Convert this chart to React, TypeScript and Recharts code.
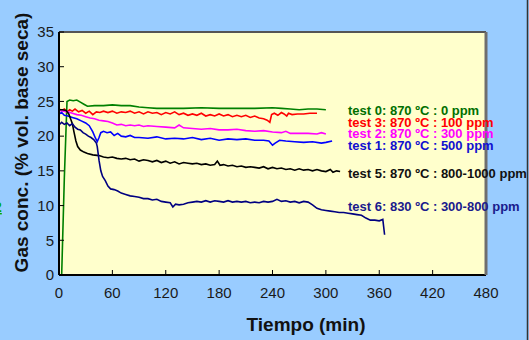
import { CartesianGrid, Line, LineChart, XAxis, YAxis } from "recharts"

type Pt = { t: number; v: number }

const FONT = "Arial, 'Liberation Sans', sans-serif"

const X_TICKS = [0, 60, 120, 180, 240, 300, 360, 420, 480]
const Y_TICKS = [0, 5, 10, 15, 20, 25, 30, 35]

// [tiempo (min), concentración (%)]
const TEST0: [number, number][] = [
  [0, 0], [3, 0], [6, 14], [9, 25.0], [12, 25.2], [16, 25.1], [20, 25.2], [24, 24.9],
  [28, 24.6], [32, 24.3], [40, 24.4], [50, 24.4], [60, 24.5], [70, 24.4], [80, 24.4],
  [90, 24.2], [100, 24.1], [110, 24.0], [120, 24.0], [140, 24.0], [160, 24.1], [180, 24.0],
  [200, 24.0], [220, 24.0], [240, 24.1], [250, 24.0], [260, 23.9], [270, 23.8], [280, 23.9],
  [290, 23.9], [300, 23.8],
]

const TEST3: [number, number][] = [
  [0, 23.9], [3, 23.7], [6, 23.9], [9, 23.5], [12, 23.8], [15, 23.6], [18, 23.9], [22, 23.5],
  [26, 23.7], [30, 23.3], [34, 23.6], [38, 23.1], [42, 23.5], [46, 23.4], [50, 23.6], [55, 23.4],
  [60, 23.6], [65, 23.3], [70, 23.5], [75, 23.4], [80, 23.6], [85, 23.3], [90, 23.5], [95, 23.2],
  [100, 23.5], [105, 23.3], [110, 23.4], [115, 23.1], [120, 23.4], [125, 23.2], [130, 23.5],
  [135, 23.1], [140, 23.3], [145, 23.0], [150, 23.2], [155, 23.0], [160, 23.3], [165, 22.9],
  [170, 23.1], [175, 22.9], [180, 23.2], [185, 22.9], [190, 23.1], [195, 22.8], [200, 23.0],
  [205, 22.8], [210, 23.0], [215, 22.7], [220, 22.9], [225, 22.6], [230, 22.5], [234, 22.3],
  [237, 22.0], [239, 23.1], [242, 23.3], [246, 23.0], [250, 23.4], [253, 23.2], [256, 22.9],
  [258, 23.3], [262, 23.1], [268, 23.2], [275, 23.2], [282, 23.3], [290, 23.3],
]

const TEST2: [number, number][] = [
  [0, 23.7], [5, 23.6], [10, 23.5], [15, 23.3], [20, 23.1], [25, 23.0], [30, 22.8], [35, 22.6],
  [40, 22.5], [45, 22.3], [50, 22.2], [55, 22.1], [60, 21.9], [65, 21.6], [70, 21.7], [75, 21.5],
  [80, 21.6], [85, 21.5], [90, 21.6], [95, 21.4], [100, 21.5], [110, 21.4], [120, 21.3],
  [130, 21.2], [135, 21.6], [140, 21.2], [150, 21.1], [160, 21.0], [170, 21.1], [180, 20.9],
  [190, 20.9], [200, 21.0], [210, 20.8], [220, 20.7], [230, 20.8], [240, 20.6], [250, 20.5],
  [255, 20.7], [260, 20.4], [270, 20.4], [280, 20.4], [290, 20.3], [295, 20.5], [300, 20.3],
]

const TEST1: [number, number][] = [
  [0, 23.2], [3, 23.4], [6, 23.0], [10, 22.9], [15, 22.7], [20, 22.5], [25, 22.2], [30, 21.9],
  [34, 21.5], [38, 20.6], [41, 19.7], [43, 19.2], [45, 19.8], [47, 20.5], [50, 20.7], [54, 20.5],
  [58, 20.6], [62, 20.1], [66, 20.4], [70, 20.0], [75, 19.9], [80, 20.1], [85, 19.8], [90, 19.8],
  [100, 19.7], [110, 19.9], [120, 19.6], [130, 19.7], [140, 19.6], [150, 19.8], [160, 19.5],
  [170, 19.7], [180, 19.4], [190, 19.6], [200, 19.5], [210, 19.6], [220, 19.4], [230, 19.4],
  [236, 19.3], [240, 18.7], [243, 19.0], [248, 19.4], [255, 19.3], [265, 19.2], [275, 19.1],
  [285, 19.2], [295, 19.0], [300, 19.1], [307, 19.3],
]

const TEST5: [number, number][] = [
  [0, 23.8], [4, 23.8], [8, 23.7], [11, 23.2], [13, 22.5], [15, 21.8], [17, 20.5], [19, 19.3],
  [21, 18.5], [24, 18.0], [28, 17.7], [32, 17.5], [38, 17.3], [45, 17.2], [50, 17.0], [55, 16.9],
  [60, 17.0], [65, 16.8], [70, 16.7], [75, 16.8], [80, 16.6], [85, 16.7], [90, 16.4], [95, 16.6],
  [100, 16.5], [105, 16.3], [110, 16.5], [115, 16.2], [120, 16.4], [125, 16.1], [130, 16.3],
  [135, 16.0], [140, 16.2], [145, 16.1], [150, 16.0], [155, 16.1], [160, 15.9], [165, 16.0],
  [170, 15.8], [175, 15.9], [178, 16.4], [181, 15.8], [185, 15.9], [190, 15.7], [195, 15.8],
  [200, 15.6], [205, 15.7], [210, 15.5], [215, 15.6], [220, 15.5], [225, 15.4], [230, 15.6],
  [235, 15.3], [240, 15.5], [245, 15.3], [250, 15.4], [255, 15.2], [260, 15.3], [265, 15.1],
  [270, 15.3], [275, 15.1], [280, 15.2], [285, 15.0], [290, 15.2], [295, 15.0], [300, 14.9],
  [305, 15.2], [308, 14.8], [312, 15.0], [316, 14.9],
]

const TEST6: [number, number][] = [
  [0, 21.6], [3, 22.0], [6, 21.7], [9, 21.9], [12, 21.5], [15, 21.8], [18, 21.3], [21, 21.0],
  [24, 20.9], [27, 20.5], [30, 20.3], [33, 20.0], [36, 19.8], [39, 19.5], [42, 19.0], [43, 18.5],
  [45, 16.5], [47, 15.0], [49, 14.2], [52, 13.6], [55, 12.8], [58, 12.4], [62, 12.3], [66, 12.1],
  [70, 11.8], [75, 11.6], [80, 11.4], [85, 11.3], [90, 11.2], [95, 11.0], [100, 11.0], [105, 10.8],
  [110, 10.9], [115, 10.6], [120, 10.5], [125, 10.4], [128, 9.8], [131, 10.2], [135, 10.1],
  [140, 10.2], [145, 10.4], [150, 10.5], [155, 10.6], [160, 10.5], [165, 10.7], [170, 10.5],
  [175, 10.7], [180, 10.6], [185, 10.5], [190, 10.7], [195, 10.5], [200, 10.6], [205, 10.5],
  [210, 10.6], [215, 10.4], [220, 10.5], [225, 10.4], [230, 10.6], [235, 10.5], [240, 10.6],
  [245, 10.9], [250, 10.6], [255, 10.7], [260, 10.5], [265, 10.6], [270, 10.4], [275, 10.6],
  [280, 10.5], [285, 10.1], [290, 9.6], [295, 9.4], [300, 9.3], [305, 9.2], [310, 9.1],
  [315, 9.0], [320, 9.0], [325, 8.9], [330, 8.8], [335, 8.7], [340, 8.6], [345, 8.2], [350, 7.9],
  [355, 7.9], [360, 7.8], [364, 8.0], [366, 5.8],
]

const SERIES = [
  { key: "test0", data: TEST0, color: "#008000" },
  { key: "test3", data: TEST3, color: "#ff0000" },
  { key: "test2", data: TEST2, color: "#ff00ff" },
  { key: "test1", data: TEST1, color: "#0000ff" },
  { key: "test5", data: TEST5, color: "#000000" },
  { key: "test6", data: TEST6, color: "#000080" },
]

// Etiquetas de cada ensayo (texto, color, línea base en px)
const LABELS = [
  { text: "test 0: 870 ºC : 0 ppm", color: "#006f00", y: 115 },
  { text: "test 3: 870 ºC : 100 ppm", color: "#ff0000", y: 126.5 },
  { text: "test 2: 870 ºC : 300 ppm", color: "#ff00ff", y: 138 },
  { text: "test 1: 870 ºC : 500 ppm", color: "#1010d0", y: 149.5 },
  { text: "test 5: 870 ºC : 800-1000 ppm", color: "#111111", y: 177.5 },
  { text: "test 6: 830 ºC : 300-800 ppm", color: "#1a1a8c", y: 210.5 },
]

const toPts = (rows: [number, number][]): Pt[] => rows.map(([t, v]) => ({ t, v }))

const TICK = { fill: "#1a1a1a", fontSize: 15, fontFamily: FONT }

export default function App() {
  return (
    <div style={{ position: "absolute", left: 0, top: 0, width: 529, height: 340, background: "#99ccff" }}>
      <LineChart width={529} height={340} margin={{ top: 31, right: 42, bottom: 35, left: 9 }}>
        <CartesianGrid fill="#ffffcc" horizontal={false} vertical={false} />
        <XAxis
          type="number"
          dataKey="t"
          domain={[0, 480]}
          ticks={X_TICKS}
          allowDuplicatedCategory={false}
          height={30}
          tickSize={-5}
          tickMargin={17}
          tick={TICK}
          stroke="#000"
          axisLine={{ stroke: "#000", strokeWidth: 2 }}
          tickLine={{ stroke: "#000" }}
        />
        <XAxis
          xAxisId="top"
          orientation="top"
          type="number"
          domain={[0, 480]}
          height={1}
          tick={false}
          tickLine={false}
          axisLine={{ stroke: "#555", strokeWidth: 2 }}
        />
        <YAxis
          type="number"
          domain={[0, 35]}
          ticks={Y_TICKS}
          width={50}
          tickSize={-5}
          tickMargin={10}
          tick={TICK}
          axisLine={{ stroke: "#000", strokeWidth: 2 }}
          tickLine={{ stroke: "#000" }}
        />
        <YAxis
          yAxisId="right"
          orientation="right"
          type="number"
          domain={[0, 35]}
          width={1}
          tick={false}
          tickLine={false}
          axisLine={{ stroke: "#6e6e6e", strokeWidth: 3 }}
        />
        {SERIES.map((s) => (
          <Line
            key={s.key}
            data={toPts(s.data)}
            dataKey="v"
            stroke={s.color}
            strokeWidth={1.6}
            dot={false}
            activeDot={false}
            isAnimationActive={false}
          />
        ))}
      </LineChart>
      <svg
        width={529}
        height={340}
        style={{ position: "absolute", left: 0, top: 0, pointerEvents: "none" }}
      >
        <text
          x={28}
          y={142.5}
          transform="rotate(-90 28 142.5)"
          textAnchor="middle"
          fontFamily={FONT}
          fontWeight="bold"
          fontSize={19}
          fill="#111"
        >
          Gas conc. (% vol. base seca)
        </text>
        <text x={306} y={331} textAnchor="middle" fontFamily={FONT} fontWeight="bold" fontSize={19} fill="#111">
          Tiempo (min)
        </text>
        <text x={-6} y={212} fontFamily={FONT} fontWeight="bold" fontSize={14} fill="#00aa00" textDecoration="underline">
          2
        </text>
        {LABELS.map((l) => (
          <text key={l.text} x={348} y={l.y} fontFamily={FONT} fontWeight="bold" fontSize={13} fill={l.color}>
            {l.text}
          </text>
        ))}
        <line x1={527.5} y1={0} x2={527.5} y2={340} stroke="#333" strokeWidth={1.5} />
      </svg>
    </div>
  )
}
